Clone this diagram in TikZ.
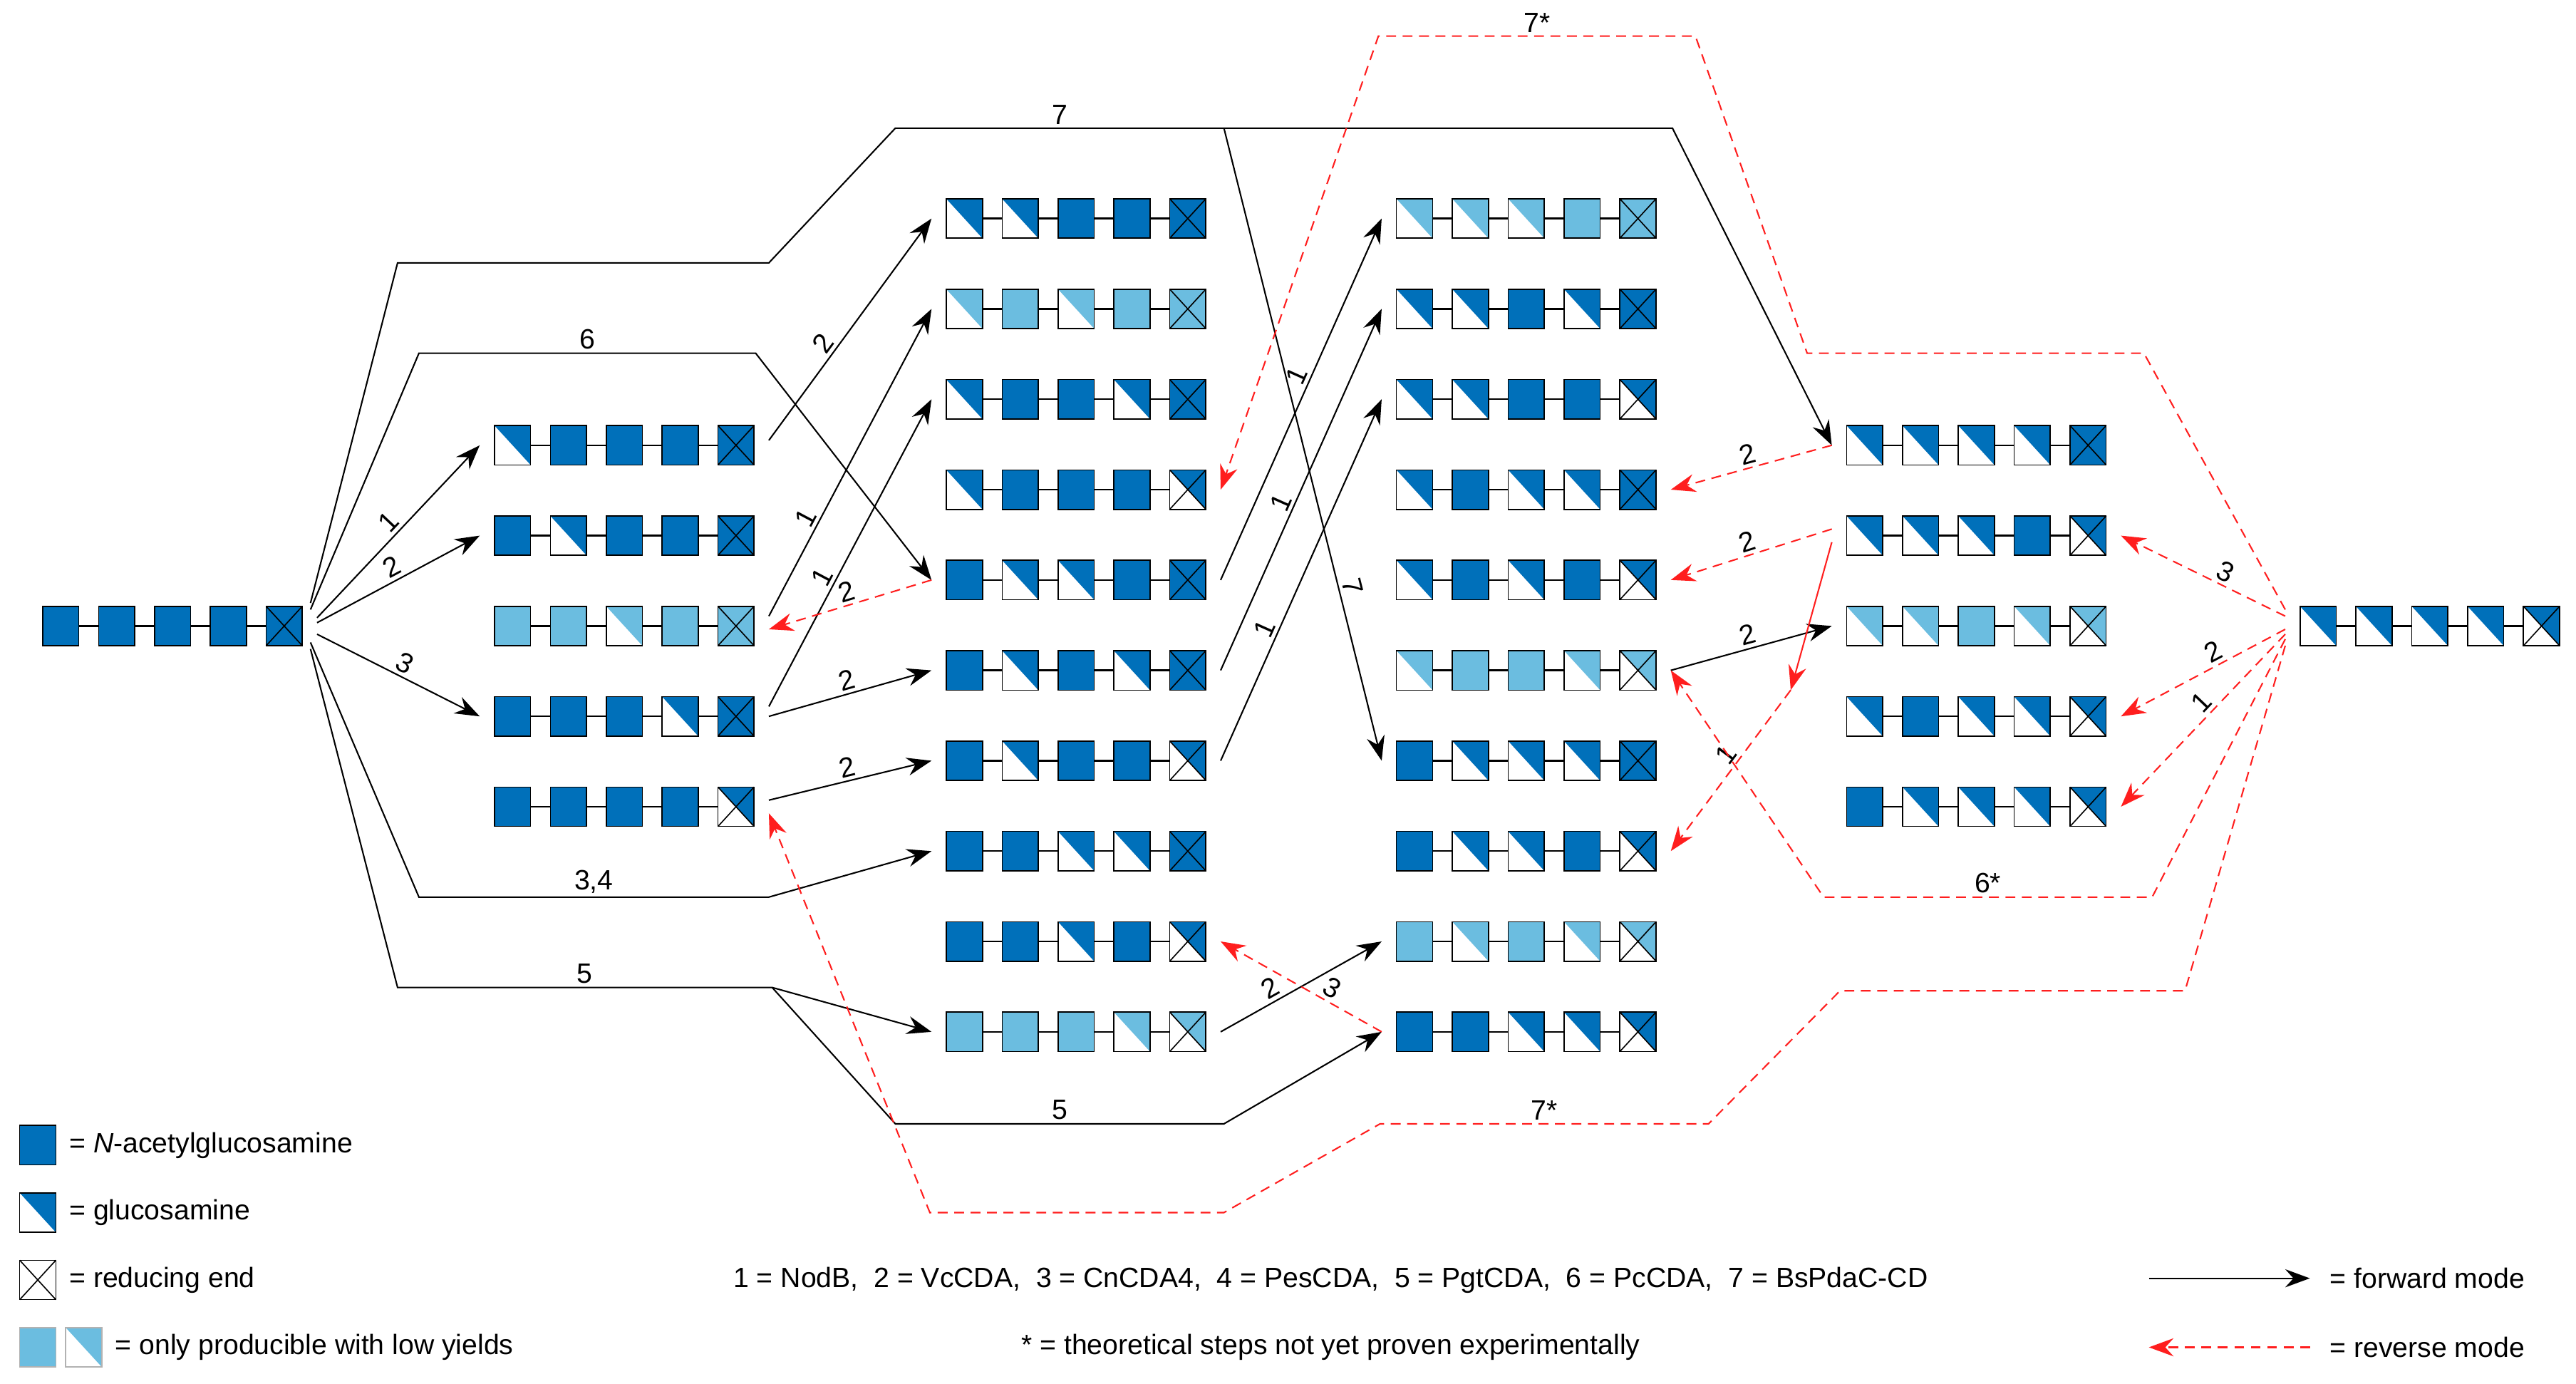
\documentclass[tikz,border=0pt]{standalone}
\usepackage{fontspec}
\setmainfont{Liberation Sans}
\usetikzlibrary{arrows.meta,calc}
\definecolor{dk}{RGB}{0,112,186}
\definecolor{lt}{RGB}{107,189,224}
\definecolor{rv}{RGB}{255,30,30}
\newcommand\sqA[2]{\fill[fc] (#1-11,#2-12) rectangle (#1+11,#2+12);\draw[ec,line width=0.7pt] (#1-11,#2-12) rectangle (#1+11,#2+12);}
\newcommand\sqD[2]{\fill[white] (#1-11,#2-12) rectangle (#1+11,#2+12);\fill[fc] (#1-11,#2-12)--(#1+11,#2-12)--(#1+11,#2+12)--cycle;\draw[ec,line width=0.7pt] (#1-11,#2-12) rectangle (#1+11,#2+12);}
\newcommand\sqAX[2]{\sqA{#1}{#2}\draw[ec,line width=0.7pt] (#1-11,#2-12)--(#1+11,#2+12) (#1-11,#2+12)--(#1+11,#2-12);}
\newcommand\sqDX[2]{\sqD{#1}{#2}\draw[ec,line width=0.7pt] (#1-11,#2-12)--(#1+11,#2+12) (#1-11,#2+12)--(#1+11,#2-12);}
\newcommand\chain[5]{%
 \node[chainbox] (#1) at (#2+68,#3) {};
 \begin{scope}
 \colorlet{fc}{#5}\ifx#5lt\colorlet{ec}{gray!70}\else\colorlet{ec}{black}\fi
 \draw[ec,line width=1pt] (#2,#3)--(#2+136,#3);
 \foreach \t [count=\i] in {#4}{\pgfmathsetmacro\cx{#2+(\i-1)*34}\csname sq\t\endcsname{\cx}{#3}}
 \end{scope}}
\begin{document}
\begin{tikzpicture}[x=1pt,y=-1pt,
 chainbox/.style={minimum width=158pt,minimum height=24pt,inner sep=0pt,outer xsep=9pt},
 tip/.style={-{Stealth[length=15pt,width=11pt,inset=5pt]}},
 fwd/.style={draw=black,line width=0.9pt,tip},
 rev/.style={draw=rv,line width=0.9pt,dash pattern=on 6pt off 4pt,tip},
 lbl/.style={font=\fontsize{17}{20}\selectfont,sloped,above,inner sep=2pt},
 hl/.style={font=\fontsize{17}{20}\selectfont,above,inner sep=2pt},
 txt/.style={font=\fontsize{17}{20}\selectfont,anchor=west,inner sep=0pt}]
\useasboundingbox (0,0) rectangle (1568,842);
% chains
\chain{S}{37}{381}{A,A,A,A,AX}{dk}
\chain{E}{1411}{381}{D,D,D,D,DX}{dk}
\chain{P1}{312}{271}{D,A,A,A,AX}{dk}
\chain{P2}{312}{326}{A,D,A,A,AX}{dk}
\chain{P3}{312}{381}{A,A,D,A,AX}{lt}
\chain{P4}{312}{436}{A,A,A,D,AX}{dk}
\chain{P5}{312}{491}{A,A,A,A,DX}{dk}
\chain{Q1}{587}{133}{D,D,A,A,AX}{dk}
\chain{Q2}{587}{188}{D,A,D,A,AX}{lt}
\chain{Q3}{587}{243}{D,A,A,D,AX}{dk}
\chain{Q4}{587}{298}{D,A,A,A,DX}{dk}
\chain{Q5}{587}{353}{A,D,D,A,AX}{dk}
\chain{Q6}{587}{408}{A,D,A,D,AX}{dk}
\chain{Q7}{587}{463}{A,D,A,A,DX}{dk}
\chain{Q8}{587}{518}{A,A,D,D,AX}{dk}
\chain{Q9}{587}{573}{A,A,D,A,DX}{dk}
\chain{Q10}{587}{628}{A,A,A,D,DX}{lt}
\chain{R1}{861}{133}{D,D,D,A,AX}{lt}
\chain{R2}{861}{188}{D,D,A,D,AX}{dk}
\chain{R3}{861}{243}{D,D,A,A,DX}{dk}
\chain{R4}{861}{298}{D,A,D,D,AX}{dk}
\chain{R5}{861}{353}{D,A,D,A,DX}{dk}
\chain{R6}{861}{408}{D,A,A,D,DX}{lt}
\chain{R7}{861}{463}{A,D,D,D,AX}{dk}
\chain{R8}{861}{518}{A,D,D,A,DX}{dk}
\chain{R9}{861}{573}{A,D,A,D,DX}{lt}
\chain{R10}{861}{628}{A,A,D,D,DX}{dk}
\chain{T1}{1135}{271}{D,D,D,D,AX}{dk}
\chain{T2}{1135}{326}{D,D,D,A,DX}{dk}
\chain{T3}{1135}{381}{D,D,A,D,DX}{lt}
\chain{T4}{1135}{436}{D,A,D,D,DX}{dk}
\chain{T5}{1135}{491}{A,D,D,D,DX}{dk}
% forward
\draw[fwd] ($(S.east)+(0,-5)$) -- node[lbl]{1} (P1.west);
\draw[fwd] ($(S.east)+(0,-2)$) -- node[lbl]{2} (P2.west);
\draw[fwd] ($(S.east)+(0,5)$) -- node[lbl]{3} (P4.west);
\draw[fwd] ($(S.east)+(-4,-14)$) -- (242,160) -- (468,160) -- (545,78) -- node[hl,pos=0.5]{7} coordinate[pos=1] (k7) (745,78) -- (1018,78) -- (T1.west);
\draw[fwd] (k7) -- node[lbl,pos=0.73]{7} (R7.west);
\draw[fwd] ($(S.east)+(-4,-10)$) -- (255,215) -- node[hl]{6} (460,215) -- (Q5.west);
\draw[fwd] ($(S.east)+(-4,10)$) -- (255,546) -- node[hl]{3,4} (468,546) -- (Q8.west);
\draw[fwd] ($(S.east)+(-4,14)$) -- (242,601) -- node[hl]{5} coordinate[pos=1] (k5) (470,601) -- (Q10.west);
\draw[fwd] (k5) -- (545,684) -- node[hl]{5} (745,684) -- (R10.west);
\draw[fwd] ($(P1.east)+(0,-3)$) -- node[lbl,pos=0.4]{2} (Q1.west);
\draw[fwd] ($(P3.east)+(0,-6)$) -- node[lbl,pos=0.3]{1} (Q2.west);
\draw[fwd] ($(P4.east)+(0,-6)$) -- node[lbl,pos=0.4]{1} (Q3.west);
\draw[fwd] (P4.east) -- node[lbl]{2} (Q6.west);
\draw[fwd] ($(P5.east)+(0,-4)$) -- node[lbl]{2} (Q7.west);
\draw[fwd] (Q5.east) -- node[lbl,pos=0.55]{1} (R1.west);
\draw[fwd] (Q6.east) -- node[lbl,pos=0.45]{1} (R2.west);
\draw[fwd] (Q7.east) -- node[lbl,pos=0.35]{1} (R3.west);
\draw[fwd] (Q10.east) -- node[lbl,pos=0.35]{2} (R9.west);
\draw[fwd] (R6.east) -- node[lbl]{2} (T3.west);
% reverse
\draw[rev] (Q5.west) -- node[lbl]{2} ($(P3.east)+(0,2)$);
\draw[rev] (R10.west) -- node[lbl,pos=0.35]{3} (Q9.east);
\draw[rev] (T1.west) -- node[lbl]{2} (R4.east);
\draw[rev] ($(T2.west)+(0,-4)$) -- node[lbl]{2} (R5.east);
\draw[rev,solid] ($(T2.west)+(0,4)$) -- (1090,420);
\draw[rev] (1090,420) -- node[lbl,pos=0.45]{1} (R8.east);
\draw[rev] ($(E.west)+(0,-6)$) -- node[lbl,pos=0.4]{3} (T2.east);
\draw[rev] ($(E.west)+(0,2)$) -- node[lbl,pos=0.4]{2} (T4.east);
\draw[rev] ($(E.west)+(0,5)$) -- node[lbl,pos=0.45]{1} (T5.east);
\draw[rev] ($(E.west)+(0,-10)$) -- (1305,215) -- (1100,215) -- (1032,22) -- node[hl]{7*} (839,22) -- (Q4.east);
\draw[rev] ($(E.west)+(0,8)$) -- (1310,546) -- node[hl]{6*} (1110,546) -- (R6.east);
\draw[rev] ($(E.west)+(0,12)$) -- (1330,603) -- (1120,603) -- (1040,684) -- node[hl]{7*} (840,684) -- (745,738) -- (566,738) -- ($(P5.east)+(0,4)$);
% legend
\begin{scope}\colorlet{fc}{dk}\colorlet{ec}{black}
\sqA{23}{697}\sqD{23}{738}
\end{scope}
\begin{scope}\colorlet{fc}{white}\colorlet{ec}{black}
\sqAX{23}{779}
\end{scope}
\begin{scope}\colorlet{fc}{lt}\colorlet{ec}{gray!60}
\sqA{23}{820}\sqD{51}{820}
\end{scope}
\node[txt] (l1) at (42,697) {= \textit{N}-acetylglucosamine};
\node[txt] (l2) at (42,738) {= glucosamine};
\node[txt] (l3) at (42,779) {= reducing end};
\node[txt] (l4) at (70,820) {= only producible with low yields};
\node[txt,anchor=center] (l5) at (810,779) {1 = NodB,\ \ 2 = VcCDA,\ \ 3 = CnCDA4,\ \ 4 = PesCDA,\ \ 5 = PgtCDA,\ \ 6 = PcCDA,\ \ 7 = BsPdaC-CD};
\node[txt,anchor=center] (l6) at (810,820) {* = theoretical steps not yet proven experimentally};
\coordinate (fa) at (1308,778); \coordinate (fb) at (1406,778);
\coordinate (ra) at (1406,820); \coordinate (rb) at (1308,820);
\draw[fwd] (fa) -- (fb);
\draw[rev] (ra) -- (rb);
\node[txt] (l7) at (1418,778) {= forward mode};
\node[txt] (l8) at (1418,820) {= reverse mode};
\end{tikzpicture}
\end{document}
